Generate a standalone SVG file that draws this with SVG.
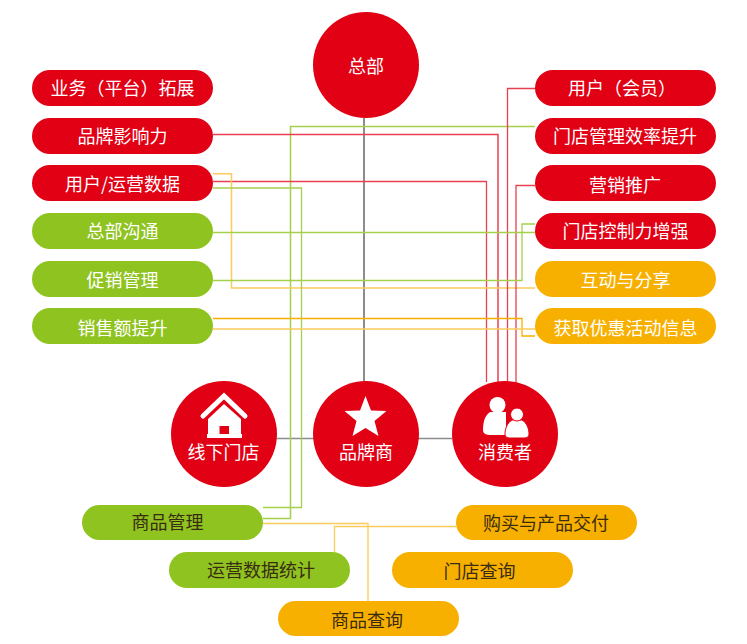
<svg xmlns="http://www.w3.org/2000/svg" width="747" height="644" viewBox="0 0 747 644">
<style>
.bg{fill:#fff}
.r{fill:#e10014}.g{fill:#8fc31f}.o{fill:#f8b000}
text{font-family:"Noto Sans CJK SC","Noto Sans",sans-serif;font-size:18px;text-anchor:middle;fill:#fff;font-weight:400}
text.d{fill:#3a2c10}
.c{fill:none;stroke-width:1.300}
.lr{stroke:#e8404f}.lg{stroke:#a5d04c}.lo{stroke:#fbcb5c}.lk{stroke:#8c8c8c}
.w{fill:#fff}
</style>
<rect class="bg" width="747" height="644"/>
<g id="connectors">
<path class="c lk" style="stroke-width:2" d="M364 118V382"/>
<path class="c lk" style="stroke-width:1.500" d="M277 438.500H452"/>
<path class="c lg" style="stroke-width:1.500" d="M535 126.500H290.500V518.500H263"/>
<path class="c lr" style="stroke-width:1.500" d="M213 134.500H498V382"/>
<path class="c lr" d="M213 181.500H486.500V382"/>
<path class="c lo" style="stroke-width:1.500" d="M213 173.700H231.500V288H535"/>
<path class="c lg" d="M213 188H301.500V507.500H263"/>
<path class="c lr" d="M535 88.500H507.500V382"/>
<path class="c lr" d="M535 185.500H516V382"/>
<path class="c lg" d="M213 232.500H535"/>
<path class="c lg" d="M213 280.500H522V224H535"/>
<path class="c" style="stroke:#f8b000" d="M213 318.500H522V336H535"/>
<path class="c lo" d="M213 329H535"/>
<path class="c lo" d="M263 523.500H368V601"/>
<path class="c lo" d="M456 526.500H334.500V552"/>
</g>
<g id="hq"><circle class="r" cx="366" cy="65" r="53"/><text x="366" y="72.500">总部</text></g>
<g id="l1"><rect class="r" x="32" y="70" width="181" height="36" rx="18"/><text x="122.500" y="95">业务（平台）拓展</text></g>
<g id="l2"><rect class="r" x="32" y="118" width="181" height="36" rx="18"/><text x="122.500" y="143">品牌影响力</text></g>
<g id="l3"><rect class="r" x="32" y="165" width="181" height="36" rx="18"/><text x="122.500" y="191">用户/运营数据</text></g>
<g id="l4"><rect class="g" x="32" y="213" width="181" height="36" rx="18"/><text x="122.500" y="238">总部沟通</text></g>
<g id="l5"><rect class="g" x="32" y="261" width="181" height="36" rx="18"/><text x="122.500" y="287">促销管理</text></g>
<g id="l6"><rect class="g" x="32" y="308" width="181" height="36" rx="18"/><text x="122.500" y="335">销售额提升</text></g>
<g id="r1"><rect class="r" x="535" y="70" width="181" height="36" rx="18"/><text x="622" y="95">用户（会员）</text></g>
<g id="r2"><rect class="r" x="535" y="118" width="181" height="36" rx="18"/><text x="625" y="143">门店管理效率提升</text></g>
<g id="r3"><rect class="r" x="535" y="165" width="181" height="36" rx="18"/><text x="625" y="192">营销推广</text></g>
<g id="r4"><rect class="r" x="535" y="213" width="181" height="36" rx="18"/><text x="625.500" y="238">门店控制力增强</text></g>
<g id="r5"><rect class="o" x="535" y="261" width="181" height="36" rx="18"/><text x="625.500" y="287">互动与分享</text></g>
<g id="r6"><rect class="o" x="535" y="308" width="181" height="36" rx="18"/><text x="625.500" y="335">获取优惠活动信息</text></g>
<g id="store"><circle class="r" cx="224" cy="434" r="53"/>
<path d="M203 416L224 396L245 416" fill="none" stroke="#fff" stroke-width="5" stroke-linecap="round"/>
<path class="w" d="M224 404L241 419V434H242V438H207V434H208V419Z"/>
<rect class="r" x="219.500" y="426" width="9.500" height="8"/>
<text x="223.500" y="458.500">线下门店</text></g>
<g id="brand"><circle class="r" cx="366" cy="434" r="53"/>
<polygon class="w" points="365.500,396 371,410.500 386.500,411 374.500,421 378.500,436 365.500,428 352.500,436 356.500,421 344.500,411 360,410.500"/>
<text x="366" y="458.500">品牌商</text></g>
<g id="consumer"><circle class="r" cx="505" cy="434" r="53"/>
<circle class="w" cx="497.500" cy="405" r="8"/>
<path class="w" d="M490 412C484 416 483 424 483 430C483 434 486 435 492 435H506V412Z"/>
<path class="w" stroke="#e10014" stroke-width="1" d="M512 420C507 423 505 429 505 434C505 437 507 438 510 438H524C527 438 529 437 529 434C529 429 527 423 522 420Z"/>
<circle class="w" stroke="#e10014" stroke-width="1" cx="517" cy="414.500" r="6.500"/>
<text x="505" y="458.500">消费者</text></g>
<g id="b1"><rect class="g" x="82" y="505" width="181" height="35" rx="17.500"/><text class="d" x="167.500" y="529">商品管理</text></g>
<g id="b2"><rect class="g" x="169" y="552" width="181" height="36" rx="18"/><text class="d" x="261" y="577">运营数据统计</text></g>
<g id="b3"><rect class="o" x="278" y="601" width="181" height="35" rx="17.500"/><text class="d" x="367" y="627">商品查询</text></g>
<g id="b4"><rect class="o" x="456" y="505" width="181" height="35" rx="17.500"/><text class="d" x="546" y="530">购买与产品交付</text></g>
<g id="b5"><rect class="o" x="392" y="552" width="181" height="36" rx="18"/><text class="d" x="479.500" y="578">门店查询</text></g>
</svg>
